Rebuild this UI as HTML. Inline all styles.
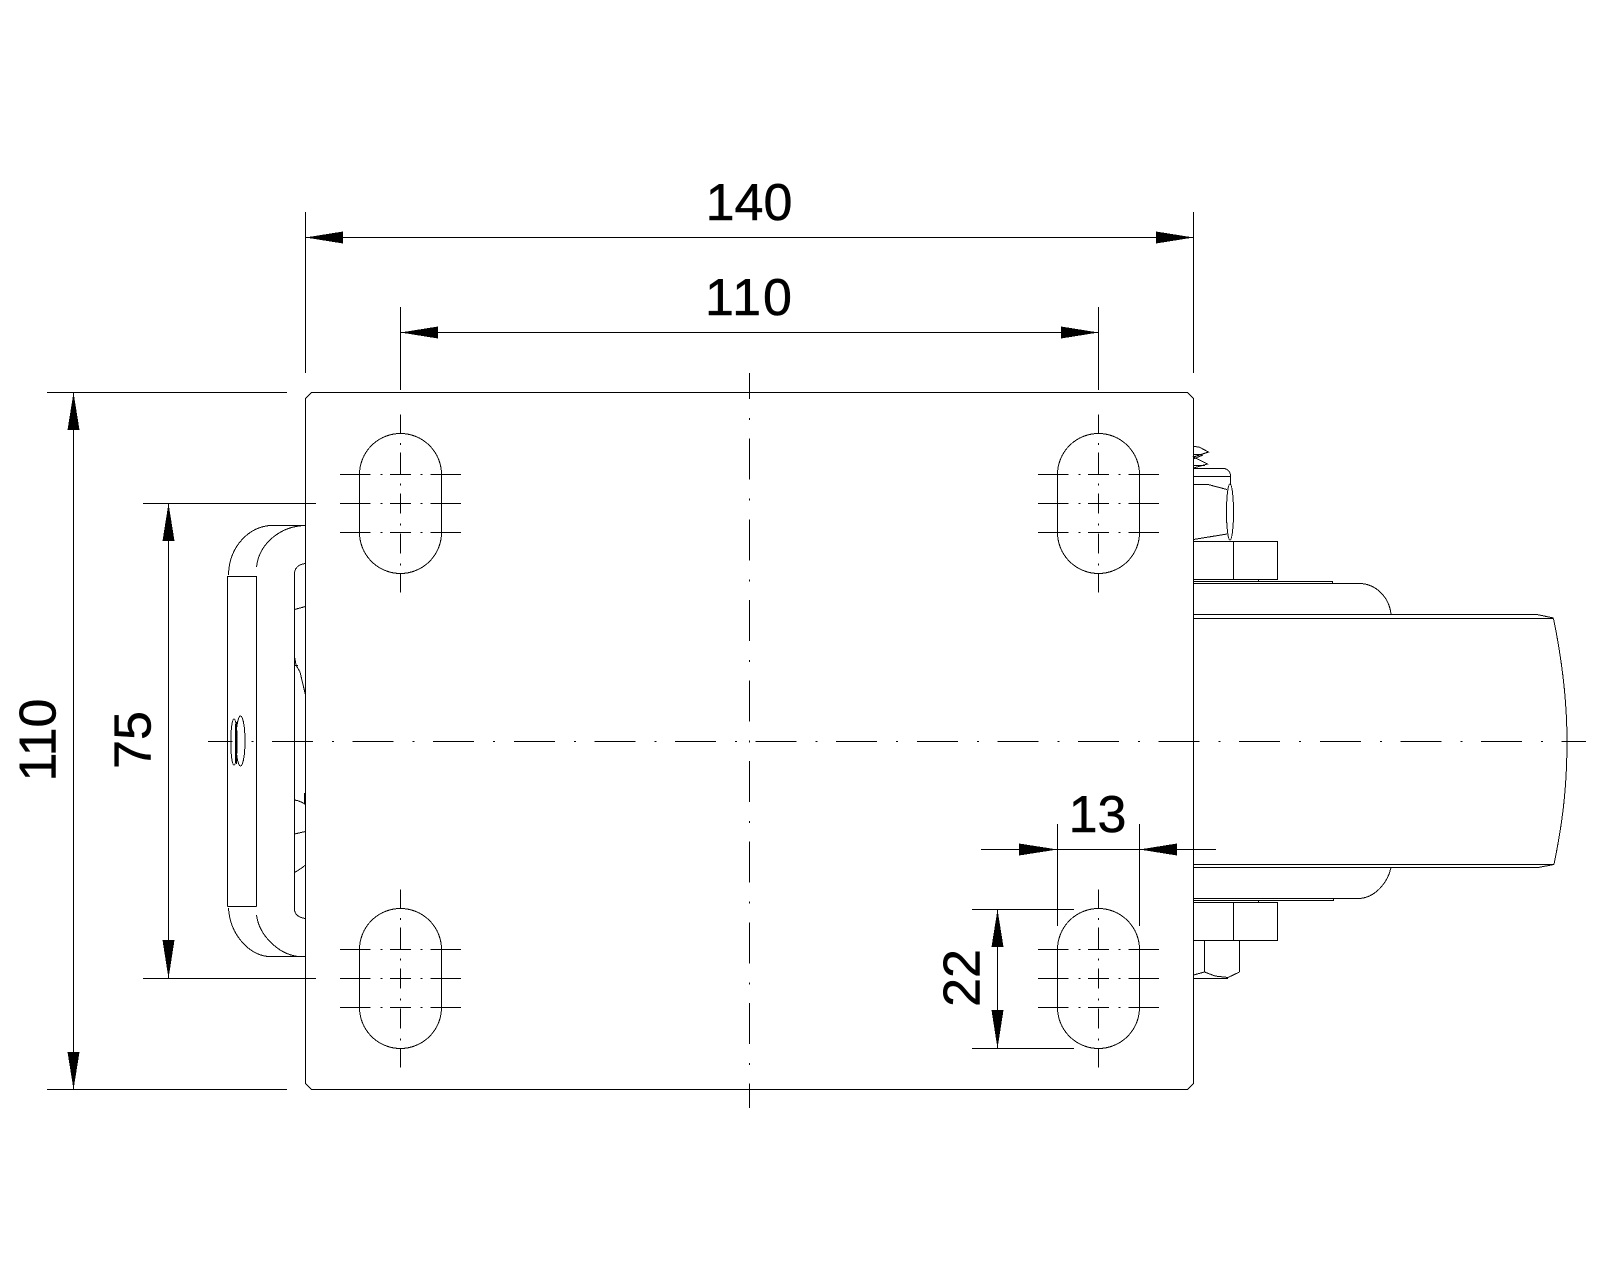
<!DOCTYPE html>
<html>
<head>
<meta charset="utf-8">
<title>Drawing</title>
<style>
html,body{margin:0;padding:0;background:#fff;width:1600px;height:1280px;overflow:hidden}
svg{display:block}
.l{fill:none;stroke:#000;stroke-width:1;shape-rendering:crispEdges}
.a{fill:#000;stroke:none;shape-rendering:crispEdges}
text{font-family:"Liberation Sans",Arial,sans-serif;font-size:52px;fill:#000;stroke:#000;stroke-width:.5px;text-anchor:middle}
</style>
</head>
<body>
<svg width="1600" height="1280" viewBox="0 0 1600 1280" xmlns="http://www.w3.org/2000/svg">
<rect width="1600" height="1280" fill="#fff"/>
<defs>
<g id="slot" class="l">
  <path d="M-41 -29 A41 41 0 0 1 41 -29 V29 A41 41 0 0 1 -41 29 Z"/>
  <path d="M-60.5 -29H-30M-20 -29H-18M-10.500 -29H10.500M20 -29H22M30 -29H60.500"/>
  <path d="M-60.5 0H-30M-20 0H-18M-10.500 0H10.500M20 0H22M30 0H60.500"/>
  <path d="M-60.5 29H-30M-20 29H-18M-10.500 29H10.500M20 29H22M30 29H60.500"/>
  <path d="M0 -89V-70M0 -60.500V-58.500M0 -51V-29M0 -20V-18M0 -10V10M0 20V22M0 30V50M0 60V62M0 70V89"/>
</g>
</defs>

<!-- Plate -->
<path class="l" d="M311.500 392.500H1187.500L1193.500 398.500V1083.500L1187.500 1089.500H311.500L305.500 1083.500V398.500Z"/>

<!-- Centre lines -->
<path class="l" d="M208 741.500H1586" stroke-dasharray="41 19 2 18.6" stroke-dashoffset="16.6"/>
<path class="l" d="M749.500 373V1108" stroke-dasharray="41 19 2 18.6" stroke-dashoffset="14.9"/>

<!-- Slots -->
<use href="#slot" x="400.5" y="503.5"/>
<use href="#slot" x="1098.5" y="503.5"/>
<use href="#slot" x="400.5" y="978.5"/>
<use href="#slot" x="1098.5" y="978.5"/>

<!-- Left bracket -->
<g class="l">
  <path d="M227.500 576V906.500M256.500 576V906.500M227.500 576.500H256.500M227.500 906.500H256.500"/>
  <path d="M228.500 575C229 546 250 525.500 272 525.500H305.500"/>
  <path d="M256.500 567C259 544 280 526 305.500 525.500"/>
  <path d="M228.500 908C230 935 250 956.500 270 956.500H305.500"/>
  <path d="M256.500 915C259 935 278 954 298 956.500"/>
  <path d="M294.500 573V910"/>
  <path d="M294.500 573C295 567 300 564 305.500 563.500"/>
  <path d="M294.500 910C295 915 300 918 305.500 918.500"/>
  <path d="M294.500 609.500L305.500 606.500"/>
  <path d="M294.500 656.500L296 665L300 672L305.500 695"/>
  <path d="M294.500 665.500H298"/>
  <path d="M294.500 800C298 800.500 302 802 305.500 804.500"/>
  <path d="M304.500 793V804"/>
  <path d="M294.500 834L305.500 831.500"/>
  <path d="M294.500 872.500C299 870 302 868 305.500 865"/>
  <ellipse cx="234" cy="742" rx="3.200" ry="23"/>
  <ellipse cx="240.500" cy="741" rx="4.500" ry="25"/>
  <path d="M236.500 722V764M235.500 724V762"/>
</g>

<!-- Top right nut and spring -->
<g class="l">
  <path d="M1193.500 446.500L1199 447L1208.500 452L1193.500 457L1207.500 464L1193.500 468"/>
  <path d="M1193.500 459L1203 455M1193.500 465.500H1205M1193.500 454.500H1200"/>
  <path d="M1193.500 468.500H1224C1228 469 1230.500 472 1230.500 476V485M1193.500 476.500H1230.500"/>
  <path d="M1193.500 484.500H1208L1227 489.500M1193.500 539.500L1227 534"/>
  <ellipse cx="1230" cy="512" rx="3.500" ry="28"/>
  <path d="M1193.500 541.500H1277.500V579.500H1193.500M1233.500 541.500V579.500"/>
  <path d="M1193.500 581.500H1332.500V583M1258.500 580V581"/>
  <path d="M1193.500 583.500H1360C1376 584 1389 597 1391 614"/>
  <path d="M1193.500 614.500H1537L1553.500 618M1193.500 618.500H1553.500"/>
  <path d="M1553.500 618.500C1562 660 1567 700 1567 741C1567 790 1562 825 1554 864.500"/>
  <path d="M1193.500 864.500H1554L1538 867.500H1193.500"/>
  <path d="M1391 867.500C1388 882 1376 897 1360 898.500H1193.500"/>
  <path d="M1193.500 900.500H1333.500V899M1258.500 900V902"/>
  <path d="M1193.500 902.500H1277.500V940.500H1193.500M1233.500 902.500V940.500"/>
  <path d="M1204.500 940.500V972.500M1239.500 940.500V972"/>
  <path d="M1193.500 975L1204.500 972L1215 976L1228 977.500L1239.500 972"/>
  <path d="M1193.500 978.500H1228"/>
</g>

<!-- Dimension lines -->
<g class="l">
  <path d="M305.500 212V373M1193.500 212V373"/>
  <path d="M305.500 237.500H1193.500"/>
  <path d="M400.500 307V390M1098.500 307V390"/>
  <path d="M400.500 332.500H1098.500"/>
  <path d="M47 392.500H287M47 1089.500H287M73.500 392.500V1089.500"/>
  <path d="M143 503.500H316M143 978.500H316M168.500 503.500V978.500"/>
  <path d="M981 849.500H1216M1057.500 824V926M1139.500 824V926"/>
  <path d="M972 909.500H1074M972 1048.500H1074M997.500 909.500V1048.500"/>
</g>

<!-- Arrowheads -->
<g class="a">
  <polygon points="305.500,237.500 343,231.500 343,243.500"/>
  <polygon points="1193.500,237.500 1156,231.500 1156,243.500"/>
  <polygon points="400.500,332.500 438,326.500 438,338.500"/>
  <polygon points="1098.500,332.500 1061,326.500 1061,338.500"/>
  <polygon points="73.500,392.500 67.500,430 79.500,430"/>
  <polygon points="73.500,1089.500 67.500,1052 79.500,1052"/>
  <polygon points="168.500,503.500 162.500,541 174.500,541"/>
  <polygon points="168.500,978.500 162.500,940 174.500,940"/>
  <polygon points="1057.500,849.500 1019,843.500 1019,855.500"/>
  <polygon points="1139.500,849.500 1177,843.500 1177,855.500"/>
  <polygon points="997.500,909.500 991.500,947 1003.500,947"/>
  <polygon points="997.500,1048.500 991.500,1010 1003.500,1010"/>
</g>

<!-- Labels -->
<text x="749" y="220">140</text>
<text x="749.500" y="315" style="letter-spacing:2px">110</text>
<text x="1097.500" y="832">13</text>
<text transform="translate(55.500 740) rotate(-90)">110</text>
<text transform="translate(150.500 740) rotate(-90)">75</text>
<text transform="translate(979.500 978) rotate(-90)">22</text>
</svg>
</body>
</html>
